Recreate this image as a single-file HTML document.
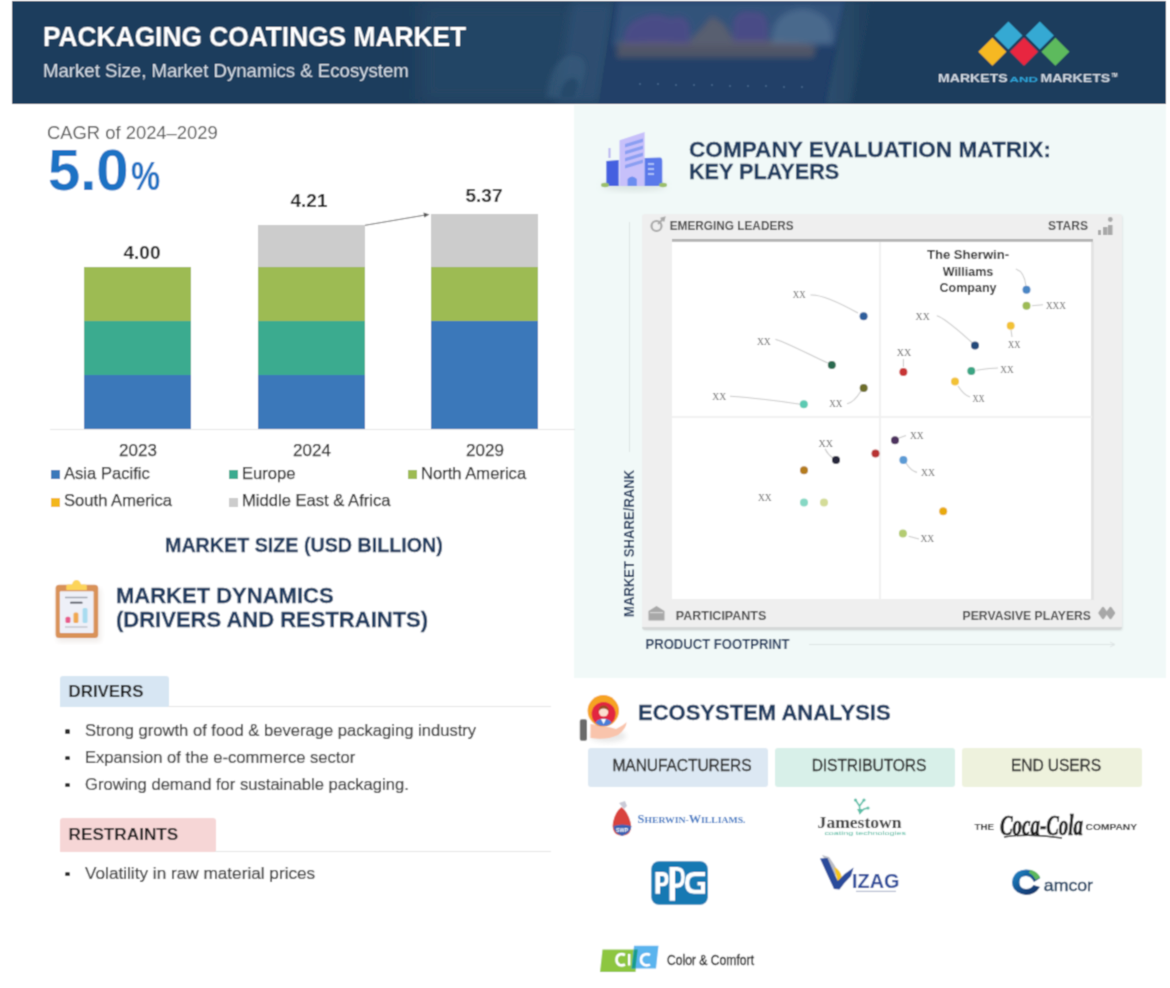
<!DOCTYPE html>
<html><head><meta charset="utf-8">
<style>
*{margin:0;padding:0;box-sizing:border-box}
html,body{width:1170px;height:988px;overflow:hidden;background:#fff}
body{position:relative;font-family:"Liberation Sans",sans-serif;color:#333}
#root{position:absolute;left:0;top:0;width:1170px;height:988px;overflow:hidden;background:#fff;filter:url(#gb)}
.a{position:absolute;white-space:nowrap}
.b{font-weight:bold}
.sx{display:inline-block;transform-origin:0 0}
#hdr{position:absolute;left:11.5px;top:1.3px;width:1154.5px;height:102.7px;background:#1e3e5d;overflow:hidden}
#mint{position:absolute;left:574px;top:105px;width:592px;height:573px;background:#f1f9f8}
.bar{position:absolute}
.c-blue{background:#3a78ba}
.c-teal{background:#3aab8f}
.c-green{background:#9dbb53}
.c-gray{background:#cccccc}
.c-yel{background:#f3b71a}
.lg{position:absolute;font-size:16.6px;line-height:17px;color:#2c2c2c;-webkit-text-stroke:0.25px #2c2c2c}
.sq{position:absolute;width:8.5px;height:8.5px}
.yr{position:absolute;font-size:17px;line-height:17px;color:#2c2c2c;text-align:center;width:60px;-webkit-text-stroke:0.25px #2c2c2c}
.val{position:absolute;font-size:19px;line-height:19px;font-weight:bold;color:#222;text-align:center;width:60px}
.li{position:absolute;left:85px;font-size:16.6px;line-height:17px;color:#383838;-webkit-text-stroke:0.2px #383838}
.bul{position:absolute;left:65.3px;width:4.6px;height:4.6px;background:#2e2e2e;border-radius:1.5px}
.h2{position:absolute;font-weight:bold;color:#1f3a5e;-webkit-text-stroke:0.3px #1f3a5e}
.dot{position:absolute;width:8px;height:8px;border-radius:50%}
.xx{position:absolute;font-family:"Liberation Serif",serif;font-size:10px;line-height:10px;color:#555}
.ql{position:absolute;font-weight:bold;font-size:12px;line-height:12px;color:#333}
.eb{position:absolute;top:747.5px;height:39.5px;border-radius:3px;font-size:15.6px;line-height:36.5px;padding-left:8px;text-align:center;color:#2a2a2a;letter-spacing:-0.1px;-webkit-text-stroke:0.35px #2a2a2a}
</style></head><body><svg width="0" height="0" style="position:absolute"><filter id="gb" x="0" y="0" width="1170" height="988" filterUnits="userSpaceOnUse"><feConvolveMatrix order="3" kernelMatrix="0.04 0.12 0.04 0.12 0.36 0.12 0.04 0.12 0.04" edgeMode="duplicate"/></filter></svg><div id="root">

<!-- HEADER -->
<div id="hdr">
<svg width="1154" height="103" viewBox="12 1 1154 103" style="position:absolute;left:0;top:0">
<defs>
<filter id="bl4" x="-50%" y="-50%" width="200%" height="200%"><feGaussianBlur stdDeviation="4"/></filter>
<filter id="bl2" x="-50%" y="-50%" width="200%" height="200%"><feGaussianBlur stdDeviation="2"/></filter>
<filter id="bl3" x="-50%" y="-50%" width="200%" height="200%"><feGaussianBlur stdDeviation="3"/></filter>
<filter id="bl8" x="-50%" y="-50%" width="200%" height="200%"><feGaussianBlur stdDeviation="8"/></filter>
<linearGradient id="bz" x1="0" x2="1" y1="0" y2="0"><stop offset="0" stop-color="#2f5171"/><stop offset="1" stop-color="#1e3e5d"/></linearGradient>
</defs>
<rect x="12" y="1" width="1154" height="103" fill="#1e3e5d"/>
<!-- soft lighter zone left of laptop -->
<rect x="420" y="1" width="200" height="103" fill="#2b4c6c" opacity="0.55" filter="url(#bl8)"/>
<polygon points="572,1 614,1 599,104 556,104" fill="#34577a" opacity="0.55" filter="url(#bl4)"/>
<!-- laptop screen -->
<polygon points="614,1 846,1 826,104 599,104" fill="#213f68"/>
<g filter="url(#bl3)">
<polygon points="618,1 846,1 836,46 612,46" fill="#3f6088" opacity="0.55"/>
<polygon points="616,58 618,42 660,40 688,42 700,30 712,16 724,24 734,40 770,40 800,42 816,46 814,58" fill="#7f6b66" opacity="0.5"/>
<path d="M624 44 Q622 24 640 18 Q655 10 670 18 Q686 12 690 26 L690 44 Z" fill="#564a8c" opacity="0.7"/>
<path d="M733 42 L733 20 Q740 8 752 12 Q766 10 768 24 L768 42 Z" fill="#564a8c" opacity="0.7"/>
<path d="M772 44 Q770 20 788 12 Q805 4 820 14 Q834 20 832 44 Z" fill="#627fa0" opacity="0.5"/>
</g>
<g fill="#6a8cb0" opacity="0.55">
<circle cx="640" cy="84" r="0.9"/><circle cx="658" cy="84" r="0.9"/><circle cx="676" cy="85" r="0.9"/><circle cx="694" cy="85" r="0.9"/><circle cx="712" cy="85" r="0.9"/><circle cx="730" cy="86" r="0.9"/><circle cx="748" cy="86" r="0.9"/><circle cx="766" cy="86" r="0.9"/><circle cx="784" cy="87" r="0.9"/><circle cx="802" cy="87" r="0.9"/>
</g>
<!-- bezel right -->
<polygon points="846,1 872,1 851,104 826,104" fill="url(#bz)" opacity="0.95" filter="url(#bl2)"/>
<!-- faint logo shape -->
<path d="M546 98 Q549 62 568 56 Q586 54 585 70 L578 98 Z" fill="#3d6383" opacity="0.45" filter="url(#bl2)"/>
<path d="M560 98 Q562 80 572 78 Q580 78 578 88 L575 98Z" fill="#1f3f60" opacity="0.6" filter="url(#bl2)"/>
<!-- MnM logo -->
<g>
<polygon points="994.4,35.4 1008.4,21.4 1022.4,35.4 1008.4,49.4" fill="#35a9d3"/>
<polygon points="1025.8,35.4 1039.8,21.4 1053.8,35.4 1039.8,49.4" fill="#35a9d3"/>
<polygon points="978.4,51.7 992.4,37.7 1006.4,51.7 992.4,65.7" fill="#f6b824"/>
<polygon points="1010,51.7 1024,37.7 1038,51.7 1024,65.7" fill="#e8253f"/>
<polygon points="1041.4,51.7 1055.4,37.7 1069.4,51.7 1055.4,65.7" fill="#5dba5d"/>
</g>
<g font-family="Liberation Sans" font-weight="bold" fill="#e6ebf0">
<text x="938.1" y="82" font-size="11.8" textLength="69.5" lengthAdjust="spacingAndGlyphs" fill="#cfd8e2">MARKETS</text>
<text x="1009.5" y="82" font-size="6.6" textLength="28.5" lengthAdjust="spacingAndGlyphs" fill="#2fa6dc">AND</text>
<text x="1040.4" y="82" font-size="11.8" textLength="69.8" lengthAdjust="spacingAndGlyphs" fill="#cfd8e2">MARKETS</text>
<text x="1111.5" y="76.5" font-size="4.5" textLength="6">TM</text>
</g>
</svg>
</div>
<div class="a b" style="left:43px;top:23px;font-size:28px;line-height:28px;color:#fff"><span class="sx" style="transform:scaleX(0.94)">PACKAGING COATINGS MARKET</span></div>
<div class="a" style="left:43px;top:62px;font-size:18.6px;line-height:18.6px;color:#d6dee7">Market Size, Market Dynamics &amp; Ecosystem</div>

<!-- MINT PANEL -->
<div id="mint"></div>

<!-- LEFT: CAGR -->
<div class="a" style="left:47px;top:124px;font-size:18.4px;line-height:18.4px;color:#555">CAGR of 2024–2029</div>
<div class="a b" style="left:48px;top:141px;font-size:58px;line-height:58px;color:#1a72c4">5.0<span style="font-size:40px;display:inline-block;transform:scaleX(0.82);transform-origin:0 100%;margin-left:2px">%</span></div>

<!-- BARS -->
<div class="bar c-green" style="left:84px;top:267px;width:107px;height:54px"></div>
<div class="bar c-teal" style="left:84px;top:321px;width:107px;height:54px"></div>
<div class="bar c-blue" style="left:84px;top:375px;width:107px;height:54px"></div>

<div class="bar c-gray" style="left:257.5px;top:225px;width:107.5px;height:42px"></div>
<div class="bar c-green" style="left:257.5px;top:267px;width:107.5px;height:54px"></div>
<div class="bar c-teal" style="left:257.5px;top:321px;width:107.5px;height:54px"></div>
<div class="bar c-blue" style="left:257.5px;top:375px;width:107.5px;height:54px"></div>

<div class="bar c-gray" style="left:431px;top:214px;width:107px;height:53px"></div>
<div class="bar c-green" style="left:431px;top:267px;width:107px;height:54px"></div>
<div class="bar c-blue" style="left:431px;top:321px;width:107px;height:108px"></div>

<svg class="a" style="left:360px;top:205px" width="80" height="25" viewBox="360 205 80 25">
<path d="M365 225.3 L426 214.9" stroke="#555" stroke-width="0.9" fill="none"/>
<path d="M423.5 212.6 L429.5 214.4 L424.3 217.6 Z" fill="#555"/>
</svg>
<div class="bar" style="left:50px;top:429px;width:525px;height:1px;background:#e6e6e6"></div>

<div class="val" style="left:112px;top:243px">4.00</div>
<div class="val" style="left:279px;top:191px">4.21</div>
<div class="val" style="left:454px;top:186px">5.37</div>

<div class="yr" style="left:108px;top:442px">2023</div>
<div class="yr" style="left:282px;top:442px">2024</div>
<div class="yr" style="left:455px;top:442px">2029</div>

<!-- LEGEND -->
<div class="sq c-blue" style="left:51px;top:470px"></div><div class="lg" style="left:64px;top:465px">Asia Pacific</div>
<div class="sq c-teal" style="left:229px;top:470px"></div><div class="lg" style="left:242px;top:465px">Europe</div>
<div class="sq c-green" style="left:408px;top:470px"></div><div class="lg" style="left:421px;top:465px">North America</div>
<div class="sq c-yel" style="left:51px;top:498px"></div><div class="lg" style="left:64px;top:492px">South America</div>
<div class="sq c-gray" style="left:229px;top:498px"></div><div class="lg" style="left:242px;top:492px">Middle East &amp; Africa</div>

<div class="h2" style="left:165px;top:535px;font-size:19.7px;line-height:20px">MARKET SIZE (USD BILLION)</div>

<!-- MARKET DYNAMICS -->
<!-- clipboard icon -->
<svg class="a" style="left:45px;top:570px" width="70" height="75" viewBox="45 570 70 75">
<defs><filter id="sh2" x="-30%" y="-30%" width="160%" height="160%"><feGaussianBlur stdDeviation="2.5"/></filter></defs>
<rect x="57" y="588" width="44" height="54" rx="4" fill="#e6e0dc" opacity="0.6" filter="url(#sh2)"/>
<rect x="55.6" y="584.8" width="42.6" height="53.2" rx="3.5" fill="#d99259"/>
<rect x="59.8" y="591.3" width="33.8" height="41.7" rx="1" fill="#eef0f8"/>
<path d="M66.3 590.1 L66.3 586 Q66.3 584.5 68 584.5 L72 584.5 Q73 580 76.5 580 Q80 580 81 584.5 L85 584.5 Q86.8 584.5 86.8 586 L86.8 590.1 Z" fill="#fcd45a"/>
<rect x="65" y="596.8" width="22.5" height="1.4" fill="#9aa0ab"/>
<rect x="70" y="601.8" width="12.6" height="1.8" rx="0.9" fill="#4a4e5a"/>
<rect x="65.5" y="616.7" width="4.9" height="6.3" rx="1.5" fill="#e85a8a"/>
<rect x="73.5" y="612.5" width="4.9" height="10.5" rx="1.5" fill="#f0a850"/>
<rect x="82.6" y="608" width="4.9" height="15" rx="1.5" fill="#a8dcf0"/>
<rect x="65" y="626.2" width="22.5" height="1.6" fill="#c6c9d2"/>
</svg>

<div class="h2" style="left:116px;top:584px;font-size:22px;line-height:24px">MARKET DYNAMICS<br>(DRIVERS AND RESTRAINTS)</div>

<div class="a" style="left:60px;top:675.5px;width:108.5px;height:31.5px;background:#d7e6f3;border-radius:3px 3px 0 0"></div>
<div class="a b" style="left:68.5px;top:683px;font-size:16.9px;line-height:17px;color:#1e1e1e">DRIVERS</div>
<div class="a" style="left:168px;top:706px;width:383px;height:1px;background:#e4e4e4"></div>
<div class="bul" style="top:729px"></div><div class="li" style="top:722px">Strong growth of food &amp; beverage packaging industry</div>
<div class="bul" style="top:755.5px"></div><div class="li" style="top:749px">Expansion of the e-commerce sector</div>
<div class="bul" style="top:782.5px"></div><div class="li" style="top:776px">Growing demand for sustainable packaging.</div>

<div class="a" style="left:59.5px;top:818px;width:156px;height:33.5px;background:#f6d6d6;border-radius:3px 3px 0 0"></div>
<div class="a b" style="left:68.5px;top:826px;font-size:17.2px;line-height:17px;color:#1e1e1e">RESTRAINTS</div>
<div class="a" style="left:215px;top:851px;width:336px;height:1px;background:#e4e4e4"></div>
<div class="bul" style="top:871.5px"></div><div class="li" style="top:865px;font-size:17.2px">Volatility in raw material prices</div>

<!-- RIGHT: MATRIX -->
<div class="h2" style="left:689px;top:138.5px;font-size:22.6px;line-height:22px">COMPANY EVALUATION MATRIX:</div>
<div class="h2" style="left:689px;top:160.5px;font-size:22.6px;line-height:22px"><span class="sx" style="transform:scaleX(0.957)">KEY PLAYERS</span></div>



<!-- building icon -->
<svg class="a" style="left:595px;top:125px" width="80" height="70" viewBox="595 125 80 70">
<defs><filter id="sh1" x="-30%" y="-30%" width="160%" height="160%"><feGaussianBlur stdDeviation="3"/></filter></defs>
<ellipse cx="634" cy="186" rx="32" ry="5" fill="#c9d6d2" opacity="0.6" filter="url(#sh1)"/>
<rect x="608.5" y="148" width="2" height="10" fill="#b8b4f0"/>
<path d="M606.3 161 L618.7 160 L618.7 186 L606.3 186 Z" fill="#4561e0"/>
<path d="M619.5 140.2 L644.6 132 L644.6 186 L619.5 186 Z" fill="#c7c0fa"/>
<g fill="#8a9ff2">
<path d="M625 144 L643 138.5 L643 142 L625 147.5Z"/>
<path d="M625 151 L643 145.5 L643 149 L625 154.5Z"/>
<path d="M625 158 L643 152.5 L643 156 L625 161.5Z"/>
<path d="M625 165 L643 159.5 L643 163 L625 168.5Z"/>
</g>
<path d="M627.6 186 L627.6 179 Q632 174 636.8 179 L636.8 186 Z" fill="#6c8ef0"/>
<path d="M644.6 158 L660 157.6 Q662.3 158 662.3 161 L662.3 186 L644.6 186 Z" fill="#5a79ea"/>
<g fill="#a9bdf6"><rect x="648" y="163" width="6" height="2"/><rect x="648" y="168" width="6" height="2"/><rect x="648" y="173" width="6" height="2"/></g>
<ellipse cx="605" cy="185" rx="4" ry="2.2" fill="#9bbf6a"/>
<ellipse cx="663" cy="185" rx="4" ry="2.2" fill="#9bbf6a"/>
</svg>

<!-- MATRIX FRAME -->
<div class="a" style="left:629px;top:222px;width:1px;height:230px;background:#dde4e4"></div>
<div class="a" style="left:642.2px;top:213.5px;width:479.5px;height:416px;background:#efefef;border-bottom:3.5px solid #d5d8d8;border-radius:3px;box-shadow:1px 1px 2px rgba(0,0,0,0.07)"></div>
<div class="a" style="left:1091px;top:241.5px;width:2.5px;height:358px;background:#e3e3e3"></div>
<div class="a" style="left:672px;top:239.3px;width:421px;height:3px;background:linear-gradient(#a8a8a8,#c4c4c4)"></div>
<div class="a" style="left:672px;top:241.8px;width:419px;height:357.7px;background:#fff"></div>
<div class="a" style="left:879px;top:241.5px;width:2px;height:358px;background:#f1f1f1"></div>
<div class="a" style="left:672px;top:416px;width:419.5px;height:2px;background:#f1f1f1"></div>
<svg class="a" style="left:600px;top:200px" width="540" height="460" viewBox="600 200 540 460" font-family="Liberation Serif" fill="#666">
<defs><filter id="ib" x="-30%" y="-30%" width="160%" height="160%"><feGaussianBlur stdDeviation="0.6"/></filter></defs>
<path d="M810.5 295 C822 294, 840 303, 858 313" fill="none" stroke="#c9c9c9" stroke-width="1.1"/>
<path d="M775.4 339.2 C790 344, 810 355, 827.7 363" fill="none" stroke="#c9c9c9" stroke-width="1.1"/>
<path d="M730 396.2 C760 398, 785 402, 801 404.3" fill="none" stroke="#c9c9c9" stroke-width="1.1"/>
<path d="M847 403.8 C852 403, 856 399, 861 391" fill="none" stroke="#c9c9c9" stroke-width="1.1"/>
<path d="M936.8 315.8 C945 318, 960 332, 972 342.5" fill="none" stroke="#c9c9c9" stroke-width="1.1"/>
<path d="M1032 305.7 L1043 304.8" fill="none" stroke="#c9c9c9" stroke-width="1.1"/>
<path d="M1011 330 L1012 337" fill="none" stroke="#c9c9c9" stroke-width="1.1"/>
<path d="M903.4 359 L903.4 367" fill="none" stroke="#c9c9c9" stroke-width="1.1"/>
<path d="M976.4 370.3 C985 369, 992 368, 998 368" fill="none" stroke="#c9c9c9" stroke-width="1.1"/>
<path d="M958 386 C962 392, 966 396, 970 397" fill="none" stroke="#c9c9c9" stroke-width="1.1"/>
<path d="M825 448.7 C827 453, 830 456, 833 458" fill="none" stroke="#c9c9c9" stroke-width="1.1"/>
<path d="M899 438 L906 435.5" fill="none" stroke="#c9c9c9" stroke-width="1.1"/>
<path d="M906 463 C909 468, 912 471, 917 472.4" fill="none" stroke="#c9c9c9" stroke-width="1.1"/>
<path d="M908.7 536.3 L919 539" fill="none" stroke="#c9c9c9" stroke-width="1.1"/>
<path d="M1015.8 269 C1022 271, 1025 277, 1026 286" fill="none" stroke="#c9c9c9" stroke-width="1.1"/>
<circle cx="863.6" cy="316.2" r="4" fill="#2f5e9c"/>
<circle cx="831.8" cy="364.9" r="4" fill="#2a6b50"/>
<circle cx="863.7" cy="388" r="4" fill="#6e6e2c"/>
<circle cx="803.8" cy="404.3" r="4" fill="#5ccab2"/>
<circle cx="1026.5" cy="289.7" r="4" fill="#4a86c5"/>
<circle cx="1026.5" cy="305.7" r="4" fill="#9dbb55"/>
<circle cx="1010.7" cy="325.8" r="4" fill="#f2c236"/>
<circle cx="975" cy="345.4" r="4" fill="#22487a"/>
<circle cx="903.4" cy="371.9" r="4" fill="#c83434"/>
<circle cx="971.3" cy="371" r="4" fill="#3aa584"/>
<circle cx="955" cy="381.4" r="4" fill="#f2c236"/>
<circle cx="836" cy="460" r="4" fill="#26283a"/>
<circle cx="804" cy="470.3" r="4" fill="#b47c1c"/>
<circle cx="875.5" cy="453.4" r="4" fill="#b83232"/>
<circle cx="804" cy="502.6" r="4" fill="#86d8c4"/>
<circle cx="824" cy="502.6" r="4" fill="#d4dc98"/>
<circle cx="895" cy="440.3" r="4" fill="#4d305e"/>
<circle cx="903.4" cy="460" r="4" fill="#5b9bd5"/>
<circle cx="943.2" cy="511.3" r="4" fill="#e8aa10"/>
<circle cx="902.9" cy="533.4" r="4" fill="#b4cc72"/>
<text x="792.8" y="298.4" font-size="11" textLength="12.8" lengthAdjust="spacingAndGlyphs">XX</text>
<text x="756.9" y="345.4" font-size="11" textLength="13.9" lengthAdjust="spacingAndGlyphs">XX</text>
<text x="712.3" y="400.0" font-size="11" textLength="13.9" lengthAdjust="spacingAndGlyphs">XX</text>
<text x="829.2" y="407.0" font-size="11" textLength="13.1" lengthAdjust="spacingAndGlyphs">XX</text>
<text x="915.6" y="319.5" font-size="11" textLength="14.1" lengthAdjust="spacingAndGlyphs">XX</text>
<text x="1045.9" y="309.0" font-size="11" textLength="20.0" lengthAdjust="spacingAndGlyphs">XXX</text>
<text x="1008.0" y="348.0" font-size="11" textLength="12.3" lengthAdjust="spacingAndGlyphs">XX</text>
<text x="896.7" y="355.8" font-size="11" textLength="14.5" lengthAdjust="spacingAndGlyphs">XX</text>
<text x="1000.2" y="373.2" font-size="11" textLength="13.4" lengthAdjust="spacingAndGlyphs">XX</text>
<text x="972.4" y="401.5" font-size="11" textLength="12.2" lengthAdjust="spacingAndGlyphs">XX</text>
<text x="818.4" y="446.8" font-size="11" textLength="14.5" lengthAdjust="spacingAndGlyphs">XX</text>
<text x="757.9" y="501.3" font-size="11" textLength="13.7" lengthAdjust="spacingAndGlyphs">XX</text>
<text x="910.0" y="439.0" font-size="11" textLength="13.7" lengthAdjust="spacingAndGlyphs">XX</text>
<text x="921.0" y="475.8" font-size="11" textLength="14.0" lengthAdjust="spacingAndGlyphs">XX</text>
<text x="920.5" y="542.1" font-size="11" textLength="13.7" lengthAdjust="spacingAndGlyphs">XX</text>
<g fill="#a8a8a8" filter="url(#ib)">
<!-- emerging leaders -->
<circle cx="656.5" cy="226" r="5" fill="none" stroke="#a8a8a8" stroke-width="2.2"/>
<path d="M658 224 L663 219 M660.5 218.5 L664.5 217.5 L663.5 221.5" fill="none" stroke="#a8a8a8" stroke-width="1.8"/>
<!-- stars -->
<rect x="1098" y="230" width="3" height="5"/>
<rect x="1103" y="227" width="4.5" height="8"/>
<rect x="1108" y="225" width="4.5" height="10"/>
<circle cx="1110.3" cy="219.5" r="2.4"/>
<!-- participants -->
<path d="M648.5 611 L656.5 606 L664.5 611 L664.5 620.5 L648.5 620.5Z"/>
<!-- pervasive -->
<path d="M1099.5 613 L1103 608 L1106.5 613 L1103 618Z" stroke="#a8a8a8" stroke-width="2.4" stroke-linejoin="round"/>
<path d="M1107 613 L1110.5 608 L1114 613 L1110.5 618Z" stroke="#a8a8a8" stroke-width="2.4" stroke-linejoin="round"/>
</g>
<rect x="650" y="612" width="13" height="1.2" fill="#d6d6d6"/>
<g font-family="Liberation Sans" font-weight="bold" fill="#474747">
<text x="669.7" y="230" font-size="13.2" textLength="124" lengthAdjust="spacingAndGlyphs">EMERGING LEADERS</text>
<text x="1048" y="229.6" font-size="13.2" textLength="40" lengthAdjust="spacingAndGlyphs">STARS</text>
<text x="675.8" y="619.7" font-size="13.4" textLength="90.5" lengthAdjust="spacingAndGlyphs">PARTICIPANTS</text>
<text x="962.6" y="619.7" font-size="13.4" textLength="128.4" lengthAdjust="spacingAndGlyphs">PERVASIVE PLAYERS</text>
</g>
<g font-family="Liberation Sans" font-weight="bold" fill="#262626" text-anchor="middle" font-size="12.5">
<text x="968" y="259" textLength="82" lengthAdjust="spacingAndGlyphs">The Sherwin-</text>
<text x="968" y="275.7">Williams</text>
<text x="968" y="292.4">Company</text>
</g>
<g font-family="Liberation Sans" font-weight="bold" fill="#233c60">
<text x="645.5" y="649.3" font-size="14.3" textLength="144" lengthAdjust="spacingAndGlyphs">PRODUCT FOOTPRINT</text>
<text transform="translate(634,617) rotate(-90)" x="0" y="0" font-size="14.3" textLength="147.3" lengthAdjust="spacingAndGlyphs">MARKET SHARE/RANK</text>
</g>
<path d="M809 644.5 L1114 644.5" stroke="#dde4e4" stroke-width="1"/>
<path d="M1110 642 L1115 644.5 L1110 647" fill="none" stroke="#dde4e4" stroke-width="1"/>
</svg>

<!-- ECOSYSTEM -->
<!-- ecosystem icon -->
<svg class="a" style="left:574px;top:688px" width="60" height="60" viewBox="574 688 60 60">
<defs><filter id="sh3" x="-30%" y="-30%" width="160%" height="160%"><feGaussianBlur stdDeviation="2.5"/></filter>
<clipPath id="cc"><circle cx="603.6" cy="714" r="12"/></clipPath></defs>
<ellipse cx="608" cy="736" rx="18" ry="6" fill="#ddd" opacity="0.7" filter="url(#sh3)"/>
<path d="M590.5 724 Q606 726 616 729 Q624 725 626.5 722 Q627 728 618 735 Q606 740 596 738.5 L590.5 738 Z" fill="#f9c4ac"/>
<circle cx="603.3" cy="710.8" r="15.7" fill="#f6a322"/>
<circle cx="603.6" cy="714" r="12" fill="#e2283f"/>
<g clip-path="url(#cc)">
<path d="M594 727 Q595 719 603.6 718.5 Q612 719 613 727 Z" fill="#4a7fd8"/>
<path d="M601 719 L603.6 724 L606 719 Z" fill="#fff"/>
<circle cx="603.6" cy="712" r="4.6" fill="#fbe0d0"/>
<path d="M598.6 711 Q598.6 705.5 603.6 705.5 Q608.6 705.5 608.6 711 Q606 708 603.6 708.6 Q601 708 598.6 711Z" fill="#9a4a20"/>
</g>
<rect x="579.8" y="719.3" width="7.2" height="21.5" rx="1.8" fill="#6a6a6a"/>
</svg>

<div class="h2" style="left:638px;top:701px;font-size:22px;line-height:24px">ECOSYSTEM ANALYSIS</div>
<div class="eb" style="left:588px;width:180px;background:#dce8f3">MANUFACTURERS</div>
<div class="eb" style="left:775px;width:180px;background:#d8f0e9">DISTRIBUTORS</div>
<div class="eb" style="left:962px;width:180px;background:#eef2dd">END USERS</div>


<!-- LOGOS -->
<svg class="a" style="left:580px;top:790px" width="580" height="198" viewBox="580 790 580 198">
<defs>
<filter id="sb" x="-20%" y="-20%" width="140%" height="140%"><feGaussianBlur stdDeviation="0.45"/></filter>
<linearGradient id="amc" x1="0" y1="0" x2="1" y2="1"><stop offset="0" stop-color="#1d8fd0"/><stop offset="0.6" stop-color="#164a86"/><stop offset="1" stop-color="#0f2f5e"/></linearGradient>
</defs>
<g filter="url(#sb)">
<!-- Sherwin-Williams -->
<path d="M619 803 L625 801 L627 806 L624 809 Z" fill="#c9c9d6"/>
<path d="M621.5 807 Q628 812 630.5 822 Q632.5 830 628 834 Q622 837 616 834 Q611.5 830 613 822 Q615 812 621.5 807Z" fill="#d9423e"/>
<path d="M613.5 826 Q622 823 631.5 826 Q631 833 622 836 Q614 833 613.5 826Z" fill="#3b62b3"/>
<text x="616" y="831.5" font-family="Liberation Sans" font-weight="bold" font-size="5" fill="#fff" textLength="12" lengthAdjust="spacingAndGlyphs">SWP</text>
<text x="637.5" y="823" font-family="Liberation Serif" font-weight="bold" fill="#3a76c2" font-size="9" textLength="108" lengthAdjust="spacingAndGlyphs"><tspan font-size="11.5">S</tspan>HERWIN-<tspan font-size="11.5">W</tspan>ILLIAMS.</text>

<!-- PPG -->
<rect x="651.3" y="861.3" width="56.5" height="43.5" rx="7.5" fill="#1579b3"/>
<path d="M655.4 872 L663 872 Q668.5 872 668.5 879 Q668.5 886.3 663 886.3 L660 886.3 L660 893.8 L655.4 893.8 Z M660 876 L662.3 876 Q664.7 876 664.7 879.2 Q664.7 882.8 662.3 882.8 L660 882.8 Z" fill="#fff" fill-rule="evenodd"/>
<path d="M669.5 867 L677.5 867 Q684.8 867 684.8 877.3 Q684.8 887.7 677.5 887.7 L675 887.7 L675 900.7 L669.5 900.7 Z M675 870.8 L677.3 870.8 Q681.3 870.8 681.3 877.2 Q681.3 883.6 677.3 883.6 L675 883.6 Z" fill="#fff" fill-rule="evenodd"/>
<path d="M705 872 L705 876.3 L695 876.3 Q689.3 876.3 689.3 883 Q689.3 889.8 695 889.8 L701 889.8 L701 885.5 L697.5 885.5 L697.5 882 L705 882 L705 893.8 L694 893.8 Q685 893.8 685 883 Q685 872 694 872 Z" fill="#fff"/>

<!-- Color & Comfort -->
<path d="M602.5 949.6 L637.7 949.6 L635.5 972 L600 972 Z" fill="#8dc63f"/>
<path d="M634 945.8 L658.5 945.8 L656 968.5 L631.5 968.5 Z" fill="#5ab4ee"/>
<path d="M634 949.6 L637.7 949.6 L635.5 968.5 L631.5 968.5 Z" fill="#179c8c"/>
<path d="M625 955 Q622 953.5 619.5 954.5 Q616.5 956 616.5 959.8 Q616.5 963.5 619.5 965 Q622 966 625 964.5" fill="none" stroke="#fff" stroke-width="2.6"/>
<rect x="628" y="954" width="2.4" height="11.5" fill="#fff"/>
<path d="M650 955 Q647.5 953.5 644.5 954.5 Q641 956 641 959.8 Q641 963.5 644.5 965 Q647.5 966 650 964.5" fill="none" stroke="#fff" stroke-width="2.6"/>
<text x="667" y="965" font-family="Liberation Sans" font-size="14" fill="#262626" stroke="#262626" stroke-width="0.35" textLength="87" lengthAdjust="spacingAndGlyphs">Color &amp; Comfort</text>

<!-- Jamestown -->
<g fill="#5cbfa8">
<circle cx="855.5" cy="800" r="1.6"/><circle cx="864" cy="800" r="1.6"/><circle cx="868" cy="808" r="1.6"/>
<path d="M855.5 800 L859.5 806 L864 800 M859.5 806 L860 813 L864 809 L868 808" fill="none" stroke="#5cbfa8" stroke-width="1.6"/>
<path d="M857 809 L860 814.4 L863 809Z"/>
</g>
<text x="817.6" y="828.2" font-family="Liberation Serif" font-weight="bold" font-size="17.5" fill="#383838" textLength="84" lengthAdjust="spacingAndGlyphs">Jamestown</text>
<text x="824.4" y="835.3" font-family="Liberation Sans" font-size="6" fill="#4fb79e" textLength="81.6" lengthAdjust="spacingAndGlyphs">coating technologies</text>

<!-- Vizag -->
<path d="M822 855 L829 857 Q834 864 838 871 L836 876 Q829 866 822 855Z" fill="#b9bcc6"/>
<path d="M834 867 Q841 870 842 878 L838 884 Q836 874 834 867Z" fill="#f4c51e"/>
<path d="M820 858.5 L827.5 858 Q833 871 837.8 881 Q844.5 873 853.6 867.5 L851 876 Q844 883 839.5 889.5 L834 889 Q826.5 873 820 858.5Z" fill="#2b4c9b"/>
<text x="852" y="888.4" font-family="Liberation Sans" font-weight="bold" font-size="20.6" fill="#2b4c9b" textLength="47.5" lengthAdjust="spacingAndGlyphs">IZAG</text>
<rect x="856" y="890.8" width="40" height="1" fill="#a0a8c4"/>

<!-- Coca-Cola -->
<text x="974.5" y="830.3" font-family="Liberation Sans" font-weight="bold" font-size="9.5" fill="#222" textLength="19.5" lengthAdjust="spacingAndGlyphs">THE</text>
<text x="1000" y="835" font-family="Liberation Serif" font-weight="bold" font-style="italic" font-size="29" fill="#1a1a1a" stroke="#1a1a1a" stroke-width="0.6" textLength="83" lengthAdjust="spacingAndGlyphs">Coca-Cola</text>
<path d="M1004 837 Q1030 833 1062 838" fill="none" stroke="#1e1e1e" stroke-width="1.4"/>
<text x="1085.6" y="830.3" font-family="Liberation Sans" font-weight="bold" font-size="9.5" fill="#222" textLength="51.4" lengthAdjust="spacingAndGlyphs">COMPANY</text>

<!-- Amcor -->
<path d="M1026 869.5 Q1036 869.5 1040.3 878 L1034 882 Q1031 876 1026 876 Q1019.5 876 1019.5 882.3 Q1019.5 889 1026 889 Q1031 889 1033.5 885 L1040 887 Q1035 895 1026 895 Q1012 893 1012 882.3 Q1013 870 1026 869.5Z" fill="url(#amc)"/>
<path d="M1030 869.8 Q1037 871 1040.3 877.5 L1035.5 880 Q1033 874.5 1029 873Z" fill="#5cb85c"/>
<text x="1043.8" y="890.9" font-family="Liberation Sans" font-size="17" fill="#173a5c" stroke="#173a5c" stroke-width="0.4" textLength="49.2" lengthAdjust="spacingAndGlyphs">amcor</text>
</g>
</svg>

</div></body></html>
